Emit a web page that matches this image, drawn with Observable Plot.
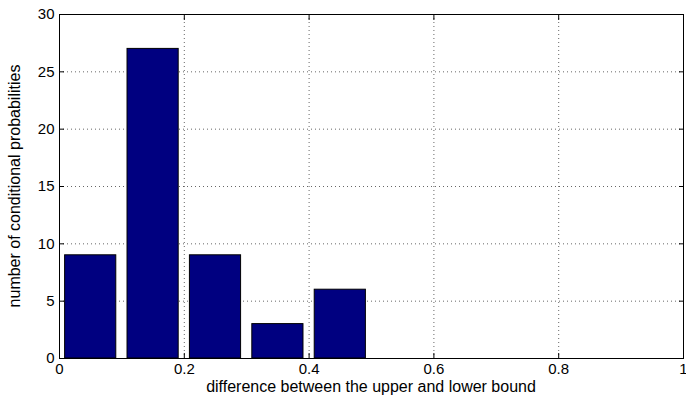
<!DOCTYPE html>
<html><head><meta charset="utf-8">
<script src="https://cdn.jsdelivr.net/npm/d3@7"></script>
<script src="https://cdn.jsdelivr.net/npm/@observablehq/plot@0.6"></script>
<style>body{margin:0;background:#fff}</style>
</head><body><div id="chart"></div>
<script>
const centers = [0.05, 0.15, 0.25, 0.35, 0.45];
const counts = [9, 27, 9, 3, 6];
const xTicks = [0, 0.2, 0.4, 0.6, 0.8, 1];
const yTicks = [0, 5, 10, 15, 20, 25, 30];

const bins = centers.map((c, i) => ({x1: c - 0.041, x2: c + 0.041, y: counts[i]}));

const chart = Plot.plot({
  width: 686,
  height: 406,
  marginLeft: 59,
  marginRight: 3,
  marginTop: 14,
  marginBottom: 48,
  style: {fontFamily: "Liberation Sans, Arial, sans-serif", fontSize: "15px", color: "#000"},
  x: {domain: [0, 1], label: null},
  y: {domain: [0, 30], label: null},
  marks: [
    Plot.gridX(xTicks, {stroke: "#000", strokeOpacity: 0.6, strokeDasharray: "1,3"}),
    Plot.gridY(yTicks, {stroke: "#000", strokeOpacity: 0.6, strokeDasharray: "1,3"}),
    Plot.rectY(bins, {x1: "x1", x2: "x2", y: "y", fill: "#000080", stroke: "#000", strokeWidth: 1}),
    Plot.frame({stroke: "#000"}),
    Plot.axisX({ticks: xTicks, tickFormat: d => String(d), tickSize: -5, tickPadding: 10, label: null}),
    Plot.axisX({anchor: "top", ticks: xTicks, tickSize: -5, tickFormat: () => "", label: null}),
    Plot.axisY({ticks: yTicks, tickSize: -5, tickPadding: 10, label: null}),
    Plot.axisY({anchor: "right", ticks: yTicks, tickSize: -5, tickFormat: () => "", label: null})
  ]
});
const svg = d3.select(chart);
svg.append("text").attr("x", 59 + 312).attr("y", 392).attr("text-anchor", "middle")
  .attr("font-size", 16).text("difference between the upper and lower bound");
svg.append("text").attr("transform", "translate(20,186) rotate(-90)").attr("text-anchor", "middle")
  .attr("font-size", 16).text("number of conditional probabilities");
document.getElementById("chart").append(chart);
</script></body></html>
